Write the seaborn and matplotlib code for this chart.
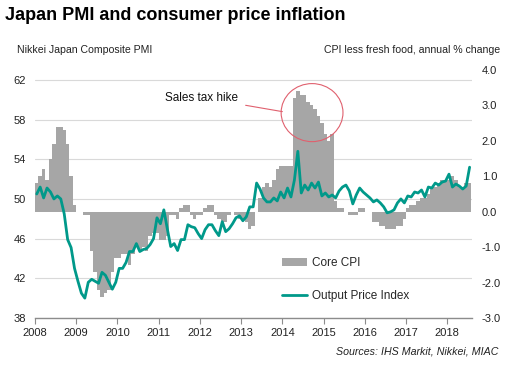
import numpy as np
import pandas as pd
import matplotlib
matplotlib.use("Agg")
import matplotlib.pyplot as plt
from matplotlib.patches import Ellipse
import seaborn as sns

# monthly data, Jan 2008 - Jul 2018
start_year = 2008
year_ticks = list(range(2008, 2019))

# CPI less fresh food, annual % change (right axis, bars)
core_cpi = [
    0.8, 1.0, 1.2, 0.9, 1.5, 1.9, 2.4, 2.4, 2.3, 1.9, 1.0, 0.2,          # 2008
    0.0, 0.0, -0.1, -0.1, -1.1, -1.7, -2.2, -2.4, -2.3, -2.2, -1.7, -1.3,  # 2009
    -1.3, -1.2, -1.2, -1.5, -1.2, -1.0, -1.1, -1.0, -1.1, -0.7, -0.6, -0.6,  # 2010
    -0.8, -0.8, -0.7, -0.1, -0.1, -0.2, 0.1, 0.2, 0.2, -0.1, -0.2, -0.1,  # 2011
    -0.1, 0.1, 0.2, 0.2, -0.1, -0.2, -0.3, -0.3, -0.1, 0.0, -0.1, -0.2,   # 2012
    -0.2, -0.3, -0.5, -0.4, 0.0, 0.4, 0.7, 0.8, 0.7, 0.9, 1.2, 1.3,       # 2013
    1.3, 1.3, 1.3, 3.2, 3.4, 3.3, 3.3, 3.1, 3.0, 2.9, 2.7, 2.5,           # 2014
    2.2, 2.0, 2.2, 0.3, 0.1, 0.1, 0.0, -0.1, -0.1, -0.1, 0.1, 0.1,        # 2015
    0.0, 0.0, -0.3, -0.3, -0.4, -0.4, -0.5, -0.5, -0.5, -0.4, -0.4, -0.2,  # 2016
    0.1, 0.2, 0.2, 0.3, 0.4, 0.4, 0.5, 0.7, 0.7, 0.8, 0.9, 0.9,           # 2017
    0.9, 1.0, 0.9, 0.7, 0.7, 0.8, 0.8,                                    # 2018
]

# Nikkei Japan Composite PMI output price index (left axis, line)
output_price = [
    50.5, 51.2, 50.1, 51.1, 50.7, 50.0, 50.3, 50.0, 48.5, 45.9, 45.1, 43.0,  # 2008
    41.7, 40.5, 40.0, 41.6, 41.9, 41.7, 41.5, 42.6, 42.3, 41.6, 40.9, 41.6,  # 2009
    43.0, 43.0, 43.6, 44.7, 44.7, 45.5, 44.7, 44.9, 45.0, 45.4, 46.0, 48.1,  # 2010
    47.5, 48.9, 47.0, 45.2, 45.5, 44.8, 45.9, 45.9, 47.4, 47.2, 47.1, 46.5,  # 2011
    46.0, 46.9, 47.4, 47.4, 46.8, 46.3, 47.7, 46.7, 47.0, 47.5, 48.1, 48.3,  # 2012
    47.8, 48.2, 49.2, 49.2, 51.6, 51.0, 50.1, 49.7, 49.7, 50.1, 49.8, 50.7,  # 2013
    50.1, 51.1, 50.2, 51.9, 54.8, 50.6, 51.4, 50.9, 51.6, 51.1, 51.7, 50.3,  # 2014
    50.6, 50.2, 50.4, 50.1, 50.8, 51.2, 51.4, 50.8, 49.5, 50.4, 51.1, 50.7,  # 2015
    50.4, 50.1, 49.7, 49.9, 49.6, 49.2, 48.6, 48.7, 48.9, 49.6, 50.0, 49.6,  # 2016
    50.3, 50.2, 50.7, 50.6, 50.9, 50.2, 51.2, 51.1, 51.6, 51.4, 51.7, 51.8,  # 2017
    52.5, 51.2, 51.5, 51.3, 51.0, 51.3, 53.2,                                # 2018
]

left_ticks = [38, 42, 46, 50, 54, 58, 62]
right_ticks = [-3, -2, -1, 0, 1, 2, 3, 4]

months = np.arange(len(core_cpi))
df = pd.DataFrame({
    "date": start_year + (months + 0.5) / 12,
    "cpi": core_cpi,
    "opi": output_price,
})

bar_color = "#a6a6a6"
line_color = "#00998a"
red = "#e0606e"

sns.set_theme(style="white")
plt.rcParams["font.family"] = ["Liberation Sans", "DejaVu Sans"]

fig = plt.figure(figsize=(5.12, 3.68), dpi=100)
ax = fig.add_axes([0.0684, 0.1359, 0.8535, 0.674])
ax2 = ax.twinx()   # bars, right scale
ax3 = ax.twinx()   # line, same scale as left

# bars - no antialiasing so the months join without seams
bars = ax2.bar(df["date"], df["cpi"], width=1 / 12, color=bar_color,
               linewidth=0, antialiased=False, label="Core CPI")

# line
sns.lineplot(data=df, x="date", y="opi", ax=ax3, color=line_color,
             linewidth=2.0, label="Output Price Index", legend=False)
line = ax3.get_lines()[0]

# left axis: grid + ticks
ax.set_xlim(2008, 2018.6)
ax.set_ylim(38, 63)
ax.set_yticks(left_ticks)
ax.set_xticks(year_ticks)
ax.yaxis.grid(True, color="#d9d9d9", linewidth=0.8)
ax.set_axisbelow(True)
for s in ["left", "right", "top"]:
    ax.spines[s].set_visible(False)
ax.spines["bottom"].set_color("#8c8c8c")
ax.spines["bottom"].set_linewidth(1.0)
ax.tick_params(axis="y", length=0, pad=6.5, labelsize=8, labelcolor="#222222")
ax.tick_params(axis="x", length=4, width=0.8, color="#8c8c8c", direction="out",
               pad=3, labelsize=8, labelcolor="#222222", bottom=True)
ax.set_xlabel("")
ax.set_ylabel("")

# right axis
ax2.set_ylim(-3, 4)
ax2.set_yticks(right_ticks)
ax2.set_yticklabels([f"{t:.1f}" for t in right_ticks])
ax2.tick_params(axis="y", length=0, pad=7, labelsize=8, labelcolor="#222222")
for s in ax2.spines.values():
    s.set_visible(False)

# line axis hidden
ax3.set_ylim(38, 63)
ax3.set_xlim(2008, 2018.6)
ax3.axis("off")

# sales tax annotation
ax3.annotate("Sales tax hike", xy=(2014.0, 58.8), xytext=(2012.93, 60.2),
             ha="right", va="center", fontsize=8.5, color="#111111",
             arrowprops=dict(arrowstyle="-", color=red, lw=0.8,
                             shrinkA=3, shrinkB=0))
ax3.add_patch(Ellipse((2014.72, 58.7), 1.5, 5.85, fill=False,
                      edgecolor=red, linewidth=0.8))

# legend
fig.legend([bars, line], ["Core CPI", "Output Price Index"], loc="upper left",
           bbox_to_anchor=(0.5508, 0.302), frameon=False, fontsize=8.5,
           handlelength=2.1, handletextpad=0.4, labelspacing=1.8,
           borderpad=0, borderaxespad=0)

# texts
fig.text(0.01, 0.957, "Japan PMI and consumer price inflation", fontsize=13,
         fontweight="bold", ha="left", va="center", color="black")
fig.text(0.033, 0.864, "Nikkei Japan Composite PMI", fontsize=7.6,
         ha="left", va="center", color="#222222")
fig.text(0.977, 0.864, "CPI less fresh food, annual % change", fontsize=7.6,
         ha="right", va="center", color="#222222")
fig.text(0.973, 0.046, "Sources: IHS Markit, Nikkei, MIAC", fontsize=7.7,
         style="italic", ha="right", va="center", color="#222222")

fig.savefig("out.png", dpi=100)
